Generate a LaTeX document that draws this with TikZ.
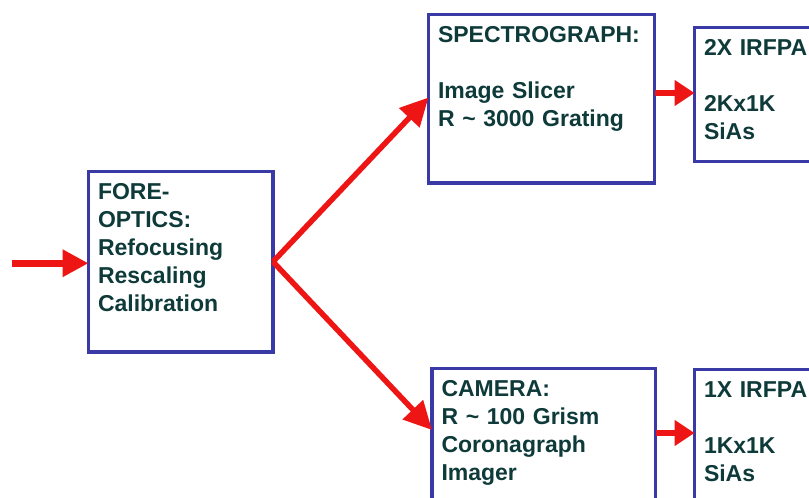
\documentclass[tikz,border=0pt]{standalone}
\usepackage{fontspec}
\setmainfont{Liberation Sans}
\usetikzlibrary{arrows.meta,calc}
\definecolor{boxBlue}{HTML}{3A3AA6}
\definecolor{arrRed}{HTML}{EE1515}
\definecolor{txtTeal}{HTML}{0E3A3A}

\begin{document}
\begin{tikzpicture}[
  x=1pt, y=-1pt,
  font=\fontsize{23}{28}\selectfont\bfseries,
  blk/.style={draw=boxBlue, line width=3.3pt, fill=white, text=txtTeal,
    anchor=north west, align=left, outer sep=0pt, inner xsep=9.5pt, inner ysep=11pt,
    text height=16.5pt},
  arr/.style={draw=arrRed, line width=5.5pt, -{Triangle[length=28pt,width=27pt]}},
  shortarr/.style={draw=arrRed, line width=6pt, -{Triangle[length=20pt,width=25pt]}},
  inarr/.style={draw=arrRed, line width=7pt, -{Triangle[length=26pt,width=26pt]}},
]
\clip (0,0) rectangle (809,498);
\node[blk, text width=165.5pt, text depth=142pt] (fore) at (88.5,171.5) {FORE-\\OPTICS:\\Refocusing\\Rescaling\\Calibration};
\node[blk, text width=207pt, text depth=130pt] (spec) at (428.5,14.5) {SPECTROGRAPH:\\[28pt]Image Slicer\\R \textasciitilde{} 3000 Grating};
\node[blk, text width=204.5pt, text depth=130pt] (cam) at (432,368.5) {CAMERA:\\R \textasciitilde{} 100 Grism\\Coronagraph\\Imager};
\node[blk, text width=126.5pt, text depth=95.5pt] (det2) at (694.5,27.5) {2X IRFPA\\[28pt]2Kx1K\\SiAs};
\node[blk, text width=126.5pt, text depth=130pt] (det1) at (694.5,369.5) {1X IRFPA\\[28pt]1Kx1K\\SiAs};
\coordinate (src) at ($(fore.west)+(-76.5,1.5)$);
\coordinate (forein) at ($(fore.west)+(0,1.5)$);
\coordinate (specin) at ($(spec.north west)+(0,83)$);
\coordinate (camin) at ($(cam.north west)+(0,61.5)$);
\draw[inarr] (src) -- (forein);
\draw[arr] (fore.east) -- (specin);
\draw[arr] (fore.east) -- (camin);
\draw[shortarr] (spec.north east |- 0,93) -- (det2.north west |- 0,93);
\draw[shortarr] (cam.north east |- 0,433) -- (det1.north west |- 0,433);
\end{tikzpicture}
\end{document}
